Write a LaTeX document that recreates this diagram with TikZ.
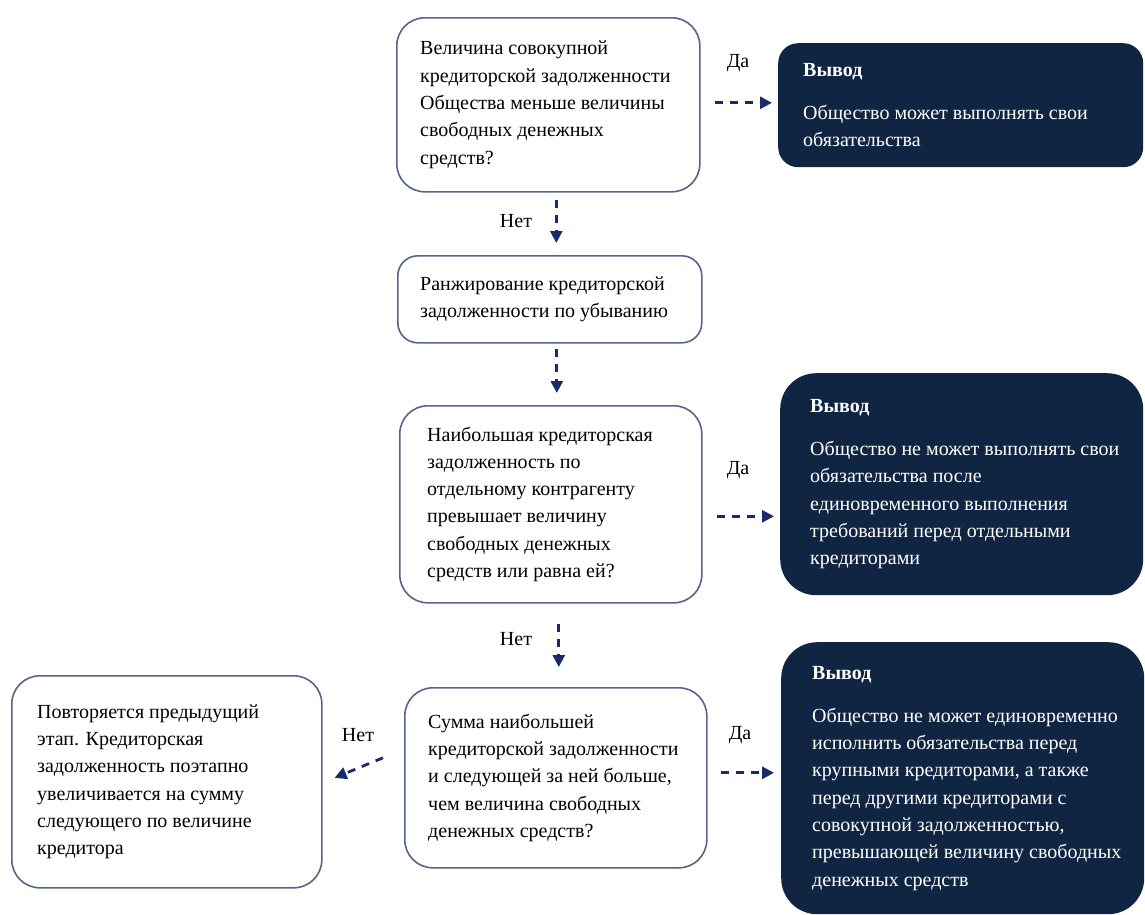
\documentclass[tikz,border=0pt]{standalone}
\usepackage{fontspec}
\setmainfont{Liberation Serif}
\usetikzlibrary{arrows.meta}
\definecolor{navy}{HTML}{0F2541}
\definecolor{edgec}{HTML}{55648A}
\definecolor{arrc}{HTML}{1B2A6B}
\begin{document}
\begin{tikzpicture}[x=1pt,y=-1pt,
  wbox/.style={draw=edgec,line width=1.6pt,fill=white,rounded corners=28pt,anchor=north west,inner sep=0pt},
  dbox/.style={fill=navy,draw=none,rounded corners=30pt,anchor=north west,inner sep=0pt},
  txt/.style={anchor=west,align=left,inner sep=0pt,font=\fontsize{20}{27.3}\selectfont},
  wtxt/.style={txt,text=white},
  lbl/.style={inner sep=0pt,font=\fontsize{20}{24}\selectfont},
  arr/.style={draw=arrc,line width=2.8pt,dash pattern=on 8pt off 7pt,-{Triangle[length=12pt,width=12pt]}}
]
\useasboundingbox (0,0) rectangle (1145,914);
\fill[white] (0,0) rectangle (1145,914);

% white boxes
\node[wbox,minimum width=303pt,minimum height=174pt] (b1) at (396,17) {};
\node[wbox,minimum width=304pt,minimum height=87pt,rounded corners=20pt] (b2) at (397,255) {};
\node[wbox,minimum width=302pt,minimum height=197pt] (b3) at (399,405) {};
\node[wbox,minimum width=302pt,minimum height=180pt] (b4) at (404,687) {};
\node[wbox,minimum width=310pt,minimum height=212pt] (b5) at (11,675) {};

% dark boxes
\node[dbox,minimum width=365pt,minimum height=124pt,rounded corners=20pt] (d1) at (778,43) {};
\node[dbox,minimum width=363pt,minimum height=222pt,rounded corners=36pt] (d2) at (780,373) {};
\node[dbox,minimum width=363pt,minimum height=272pt,rounded corners=36pt] (d3) at (781,642) {};

% texts
\node[txt] (t1) at ([xshift=24pt]b1.west) {Величина совокупной\\кредиторской задолженности\\Общества меньше величины\\свободных денежных\\средств?};
\node[txt] (t2) at ([xshift=23pt]b2.west) {Ранжирование кредиторской\\задолженности по убыванию};
\node[txt] (t3) at ([xshift=28pt]b3.west) {Наибольшая кредиторская\\задолженность по\\отдельному контрагенту\\превышает величину\\свободных денежных\\средств или равна ей?};
\node[txt] (t4) at ([xshift=24pt]b4.west) {Сумма наибольшей\\кредиторской задолженности\\и следующей за ней больше,\\чем величина свободных\\денежных средств?};
\node[txt] (t5) at ([xshift=26pt]b5.west) {Повторяется предыдущий\\этап. Кредиторская\\задолженность поэтапно\\увеличивается на сумму\\следующего по величине\\кредитора};

\node[wtxt] (u1) at ([xshift=25pt]d1.west) {\textbf{Вывод}\\[16pt]Общество может выполнять свои\\обязательства};
\node[wtxt] (u2) at ([xshift=30pt]d2.west) {\textbf{Вывод}\\[16pt]Общество не может выполнять свои\\обязательства после\\единовременного выполнения\\требований перед отдельными\\кредиторами};
\node[wtxt] (u3) at ([xshift=31pt]d3.west) {\textbf{Вывод}\\[16pt]Общество не может единовременно\\исполнить обязательства перед\\крупными кредиторами, а также\\перед другими кредиторами с\\совокупной задолженностью,\\превышающей величину свободных\\денежных средств};

% connectors
\coordinate (a1) at ([yshift=2pt]b1.east);
\coordinate (a2) at ([yshift=-12pt]b3.east);
\coordinate (a3) at ([yshift=5pt]b4.east);
\draw[arr,shorten <=14pt,shorten >=6pt] (a1) -- (d1.west |- a1);
\draw[arr,shorten <=14pt,shorten >=6pt] (a2) -- (d2.west |- a2);
\draw[arr,shorten <=13pt,shorten >=7pt] (a3) -- (d3.west |- a3);

\coordinate (v1) at ([xshift=8pt]b1.south);
\coordinate (v2) at ([xshift=7pt]b2.south);
\coordinate (v3) at ([xshift=8pt]b3.south);
\draw[arr,shorten <=7pt,shorten >=12pt] (v1) -- (v1 |- b2.north);
\draw[arr,shorten <=5pt,shorten >=12pt] (v2) -- (v2 |- b3.north);
\draw[arr,shorten <=20pt,shorten >=20pt] (v3) -- (v3 |- b4.north);

\coordinate (n3s) at ([shift={(-21,-20)}]b4.west);
\coordinate (n3e) at ([shift={(12,-4)}]b5.east);
\draw[arr] (n3s) -- (n3e);

% labels
\node[lbl] (l1) at (738,63) {Да};
\node[lbl] (l2) at (738,470) {Да};
\node[lbl] (l3) at (740,735) {Да};
\node[lbl] (l4) at (516,221) {Нет};
\node[lbl] (l5) at (516,639) {Нет};
\node[lbl] (l6) at (358,735) {Нет};
\end{tikzpicture}
\end{document}
